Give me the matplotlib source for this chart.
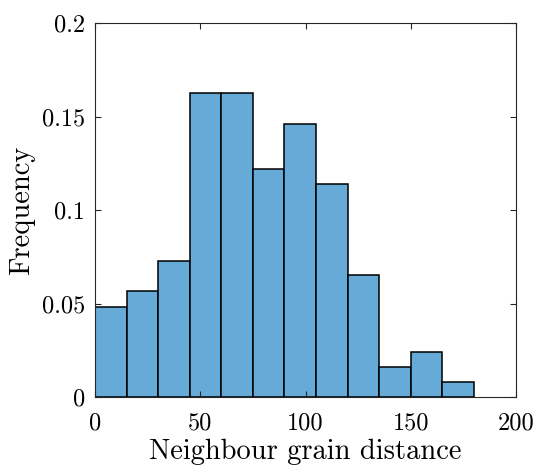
import matplotlib
matplotlib.use("Agg")
import matplotlib.pyplot as plt
import numpy as np

bin_edges = [0, 15, 30, 45, 60, 75, 90, 105, 120, 135, 150, 165, 180]
frequency = [0.0483, 0.0567, 0.0727, 0.1627, 0.1627, 0.1219, 0.1460, 0.1139, 0.0652, 0.0159, 0.0241, 0.0079]
x_ticks = [0, 50, 100, 150, 200]
x_tick_labels = ["0", "50", "100", "150", "200"]
y_ticks = [0, 0.05, 0.1, 0.15, 0.2]
y_tick_labels = ["0", "0.05", "0.1", "0.15", "0.2"]

plt.rcParams['font.family'] = ['cmr10', 'DejaVu Serif']
plt.rcParams['axes.formatter.use_mathtext'] = True

fig = plt.figure(figsize=(5.37, 4.66), dpi=100)
ax = fig.add_axes([95/537, 1-397/466, (516-95)/537, (397-23)/466])

ax.hist(bin_edges[:-1], bins=bin_edges, weights=frequency,
        color=(102/255, 170/255, 215/255), edgecolor='black', linewidth=1.1)

ax.set_xlim(0, 200)
ax.set_ylim(0, 0.2)
ax.set_xticks(x_ticks)
ax.set_xticklabels(x_tick_labels)
ax.set_yticks(y_ticks)
ax.set_yticklabels(y_tick_labels)

axcol = (0.15, 0.15, 0.15)
for s in ax.spines.values():
    s.set_color(axcol)
    s.set_linewidth(0.8)
ax.tick_params(direction='in', length=4, width=0.8, colors=axcol,
               top=True, right=True, labelsize=17.5)
ax.tick_params(axis='x', pad=11)
ax.tick_params(axis='y', pad=7)
for lbl in ax.get_xticklabels() + ax.get_yticklabels():
    lbl.set_color('black')

ax.set_xlabel("Neighbour grain distance", fontsize=20.5, color='black', labelpad=3)
ax.set_ylabel("Frequency", fontsize=20.5, color='black', labelpad=5)

fig.savefig("out.png", dpi=100)
